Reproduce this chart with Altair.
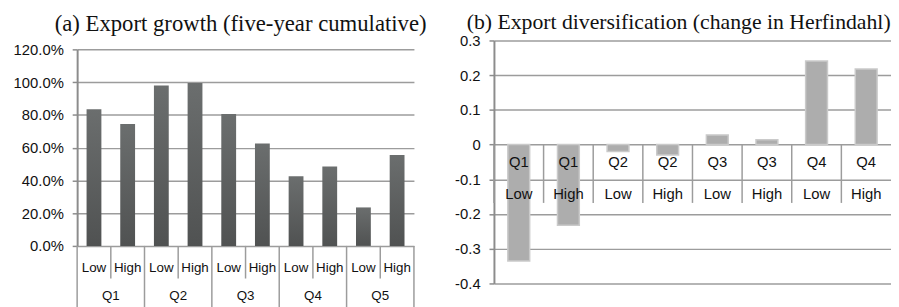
import altair as alt
import pandas as pd

# ---- data ----
groups_a = ["Q1", "Q1", "Q2", "Q2", "Q3", "Q3", "Q4", "Q4", "Q5", "Q5"]
levels_a = ["Low", "High", "Low", "High", "Low", "High", "Low", "High", "Low", "High"]
growth = [0.835, 0.745, 0.98, 0.995, 0.805, 0.625, 0.425, 0.485, 0.235, 0.555]
growth_ticks = [0, 0.2, 0.4, 0.6, 0.8, 1.0, 1.2]

groups_b = ["Q1", "Q1", "Q2", "Q2", "Q3", "Q3", "Q4", "Q4"]
levels_b = ["Low", "High", "Low", "High", "Low", "High", "Low", "High"]
herf = [-0.335, -0.232, -0.02, -0.03, 0.028, 0.014, 0.241, 0.218]
herf_ticks = [-0.4, -0.3, -0.2, -0.1, 0, 0.1, 0.2, 0.3]

title_a = "(a) Export growth (five-year cumulative)"
title_b = "(b) Export diversification (change in Herfindahl)"

dfa = pd.DataFrame({"group": groups_a, "level": levels_a, "value": growth})
dfa["key"] = dfa["group"] + " " + dfa["level"]
dfb = pd.DataFrame({"group": groups_b, "level": levels_b, "value": herf})
dfb["key"] = dfb["group"] + " " + dfb["level"]

GRID = "#9c9c9c"
SANS = "Liberation Sans"
SERIF = "Liberation Serif"

TOP_A = 9            # panel (a) plot starts a little lower than panel (b)
W_A, H_A = 341, 208  # H_A includes the TOP_A gap
W_B, H_B = 402, 246

# ---- panel (a) ----
xa_kw = dict(sort=list(dfa["key"]), scale=alt.Scale(paddingInner=0, paddingOuter=0), axis=None)
ya = alt.Y("value:Q", scale=alt.Scale(domain=[0, 1.2], nice=False, range=[H_A, TOP_A]),
           axis=alt.Axis(values=growth_ticks, format=".1%", title=None, grid=True,
                         gridColor=GRID, gridWidth=1.5, domainColor="#8c8c8c", domainWidth=2,
                         tickColor="#8c8c8c", tickSize=5, tickWidth=1.5, labelPadding=9,
                         labelOverlap=False,
                         labelFont=SANS, labelFontSize=15, labelColor="#111"))

grad = alt.Gradient(gradient="linear",
                    stops=[alt.GradientStop(color="#6b6e6e", offset=0),
                           alt.GradientStop(color="#505252", offset=1)],
                    x1=1, x2=1, y1=0, y2=1)

base_a = alt.Chart(dfa)
bars_a = base_a.mark_bar(width={"band": 0.44}, color=grad).encode(
    x=alt.X("key:N", **xa_kw), y=ya)

rule_kw = dict(color=GRID, strokeWidth=1.5)
short_a = base_a.mark_rule(**rule_kw).transform_filter("datum.level == 'High'").encode(
    x=alt.X("key:N", bandPosition=0, **xa_kw),
    y=alt.value(H_A), y2=alt.value(H_A + 33))
long_a = base_a.mark_rule(**rule_kw).transform_filter("datum.level == 'Low'").encode(
    x=alt.X("key:N", bandPosition=0, **xa_kw),
    y=alt.value(H_A), y2=alt.value(H_A + 62))
end_a = base_a.mark_rule(**rule_kw).transform_filter("datum.key == 'Q5 High'").encode(
    x=alt.X("key:N", bandPosition=1, **xa_kw),
    y=alt.value(H_A), y2=alt.value(H_A + 62))

lvl_a = base_a.mark_text(font=SANS, fontSize=13.5, baseline="middle", color="#111").encode(
    x=alt.X("key:N", **xa_kw), y=alt.value(H_A + 22.5), text="level:N")
grp_a = base_a.mark_text(font=SANS, fontSize=13.5, baseline="middle", color="#111").transform_filter(
    "datum.level == 'High'").encode(
    x=alt.X("key:N", bandPosition=0, **xa_kw), y=alt.value(H_A + 50.5), text="group:N")

panel_a = alt.layer(bars_a, short_a, long_a, end_a, lvl_a, grp_a).properties(
    width=W_A, height=H_A,
    title=alt.TitleParams(title_a, font=SERIF, fontSize=23, fontWeight="normal",
                          color="#111", anchor="middle", offset=5, dx=-5))

# ---- panel (b) ----
xb_kw = dict(sort=list(dfb["key"]), scale=alt.Scale(paddingInner=0, paddingOuter=0), axis=None)
yb_scale = alt.Scale(domain=[-0.4, 0.3], nice=False)
yb_axis = alt.Axis(values=herf_ticks, labelExpr="toString(round(datum.value*10)/10)",
                   title=None, grid=True, gridColor=GRID, gridWidth=1.5,
                   domainColor="#8c8c8c", domainWidth=2, tickColor="#8c8c8c",
                   tickSize=5, tickWidth=1.5, labelPadding=9, labelOverlap=False,
                   labelFont=SANS, labelFontSize=15, labelColor="#111")
yb = alt.Y("value:Q", scale=yb_scale, axis=yb_axis)
zero_b = alt.YDatum(0, type="quantitative", scale=yb_scale, axis=yb_axis)

base_b = alt.Chart(dfb)
bars_b = base_b.mark_bar(width={"band": 0.44}, color="#adadad", stroke="#cacaca",
                         strokeWidth=1.5).encode(x=alt.X("key:N", **xb_kw), y=yb)
div_b = base_b.mark_rule(**rule_kw).encode(
    x=alt.X("key:N", bandPosition=0, **xb_kw),
    y=zero_b, y2=alt.datum(-0.168))
grp_b = base_b.mark_text(font=SANS, fontSize=15, baseline="middle", dy=18, color="#111").encode(
    x=alt.X("key:N", **xb_kw), y=zero_b, text="group:N")
lvl_b = base_b.mark_text(font=SANS, fontSize=15, baseline="middle", dy=50, color="#111").encode(
    x=alt.X("key:N", **xb_kw), y=zero_b, text="level:N")

panel_b = alt.layer(bars_b, div_b, grp_b, lvl_b).properties(
    width=W_B, height=H_B,
    title=alt.TitleParams(title_b, font=SERIF, fontSize=22, fontWeight="normal",
                          color="#111", anchor="middle", offset=0, dx=-14))

chart = alt.hconcat(panel_a, panel_b, spacing=81, bounds="flush").properties(
    padding={"left": 5, "top": 1, "right": 0, "bottom": 0}
).configure_view(stroke=None)

chart.save("out.html", embed_options={"renderer": "svg", "actions": False})
